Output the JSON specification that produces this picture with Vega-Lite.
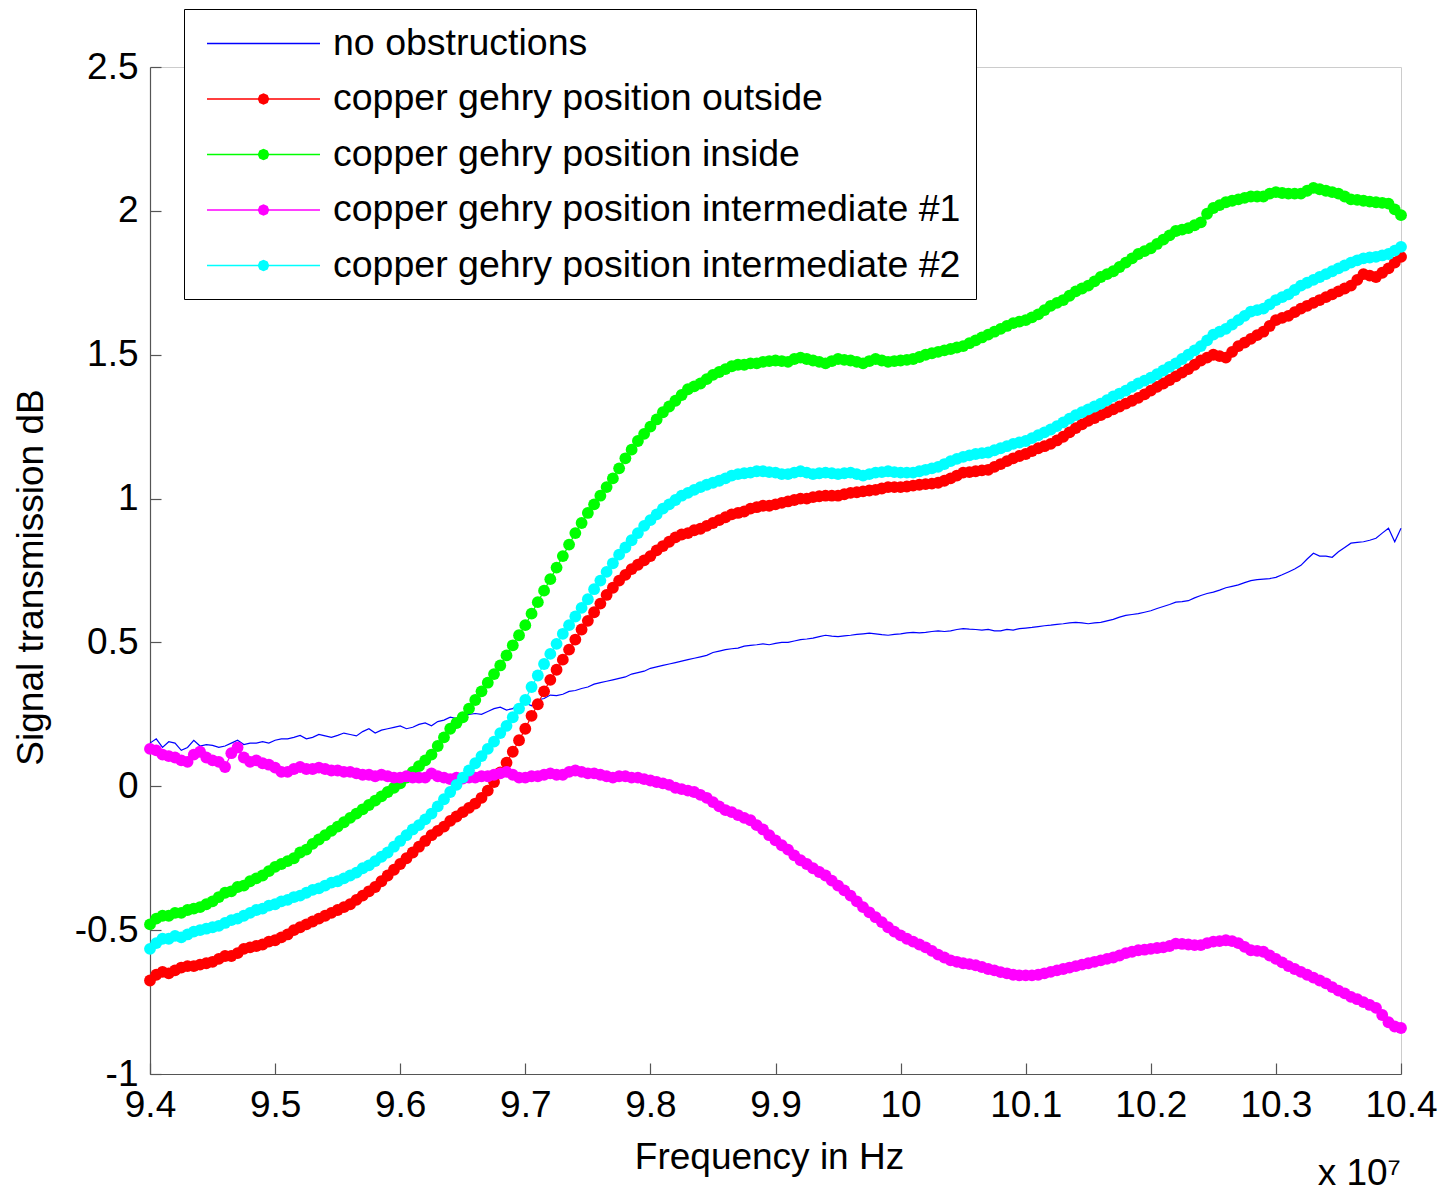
{
  "$schema": "https://vega.github.io/schema/vega-lite/v6.json",
  "width": 1251,
  "height": 1007,
  "autosize": {"type": "none"},
  "padding": {"left": 150, "top": 67, "right": 45, "bottom": 117},
  "background": "white",
  "title": {"text": "x 10⁷", "orient": "bottom", "anchor": "end", "frame": "group", "fontSize": 37, "font": "Liberation Sans", "fontWeight": "normal", "color": "black", "baseline": "alphabetic", "offset": 10},
  "data": {"values": [
{"f":9.400,"s1":0.150,"s2":-0.675,"s3":-0.480,"s4":0.130,"s5":-0.565},
{"f":9.405,"s1":0.165,"s2":-0.655,"s3":-0.460,"s4":0.125,"s5":-0.545},
{"f":9.410,"s1":0.135,"s2":-0.645,"s3":-0.450,"s4":0.110,"s5":-0.530},
{"f":9.415,"s1":0.155,"s2":-0.650,"s3":-0.450,"s4":0.105,"s5":-0.530},
{"f":9.420,"s1":0.150,"s2":-0.640,"s3":-0.440,"s4":0.100,"s5":-0.520},
{"f":9.425,"s1":0.125,"s2":-0.630,"s3":-0.440,"s4":0.090,"s5":-0.525},
{"f":9.430,"s1":0.135,"s2":-0.625,"s3":-0.430,"s4":0.085,"s5":-0.515},
{"f":9.435,"s1":0.160,"s2":-0.625,"s3":-0.425,"s4":0.110,"s5":-0.505},
{"f":9.440,"s1":0.140,"s2":-0.620,"s3":-0.420,"s4":0.120,"s5":-0.500},
{"f":9.445,"s1":0.145,"s2":-0.615,"s3":-0.410,"s4":0.100,"s5":-0.495},
{"f":9.450,"s1":0.142,"s2":-0.610,"s3":-0.400,"s4":0.090,"s5":-0.490},
{"f":9.455,"s1":0.135,"s2":-0.600,"s3":-0.385,"s4":0.085,"s5":-0.485},
{"f":9.460,"s1":0.140,"s2":-0.590,"s3":-0.370,"s4":0.067,"s5":-0.475},
{"f":9.465,"s1":0.150,"s2":-0.590,"s3":-0.365,"s4":0.115,"s5":-0.465},
{"f":9.470,"s1":0.160,"s2":-0.580,"s3":-0.350,"s4":0.135,"s5":-0.460},
{"f":9.475,"s1":0.145,"s2":-0.565,"s3":-0.345,"s4":0.100,"s5":-0.450},
{"f":9.480,"s1":0.150,"s2":-0.560,"s3":-0.330,"s4":0.085,"s5":-0.440},
{"f":9.485,"s1":0.150,"s2":-0.555,"s3":-0.320,"s4":0.090,"s5":-0.430},
{"f":9.490,"s1":0.155,"s2":-0.550,"s3":-0.310,"s4":0.080,"s5":-0.425},
{"f":9.495,"s1":0.150,"s2":-0.540,"s3":-0.295,"s4":0.075,"s5":-0.415},
{"f":9.500,"s1":0.160,"s2":-0.535,"s3":-0.280,"s4":0.065,"s5":-0.410},
{"f":9.505,"s1":0.165,"s2":-0.525,"s3":-0.270,"s4":0.050,"s5":-0.400},
{"f":9.510,"s1":0.165,"s2":-0.515,"s3":-0.260,"s4":0.050,"s5":-0.395},
{"f":9.515,"s1":0.170,"s2":-0.500,"s3":-0.250,"s4":0.060,"s5":-0.385},
{"f":9.520,"s1":0.177,"s2":-0.490,"s3":-0.230,"s4":0.067,"s5":-0.380},
{"f":9.525,"s1":0.165,"s2":-0.480,"s3":-0.220,"s4":0.060,"s5":-0.370},
{"f":9.530,"s1":0.170,"s2":-0.470,"s3":-0.200,"s4":0.060,"s5":-0.360},
{"f":9.535,"s1":0.180,"s2":-0.460,"s3":-0.185,"s4":0.065,"s5":-0.355},
{"f":9.540,"s1":0.175,"s2":-0.450,"s3":-0.170,"s4":0.060,"s5":-0.345},
{"f":9.545,"s1":0.170,"s2":-0.440,"s3":-0.155,"s4":0.055,"s5":-0.335},
{"f":9.550,"s1":0.177,"s2":-0.430,"s3":-0.140,"s4":0.055,"s5":-0.330},
{"f":9.555,"s1":0.185,"s2":-0.420,"s3":-0.125,"s4":0.050,"s5":-0.320},
{"f":9.560,"s1":0.180,"s2":-0.410,"s3":-0.110,"s4":0.050,"s5":-0.310},
{"f":9.565,"s1":0.175,"s2":-0.395,"s3":-0.095,"s4":0.045,"s5":-0.300},
{"f":9.570,"s1":0.190,"s2":-0.380,"s3":-0.080,"s4":0.040,"s5":-0.285},
{"f":9.575,"s1":0.200,"s2":-0.365,"s3":-0.065,"s4":0.040,"s5":-0.275},
{"f":9.580,"s1":0.185,"s2":-0.350,"s3":-0.050,"s4":0.035,"s5":-0.260},
{"f":9.585,"s1":0.195,"s2":-0.330,"s3":-0.035,"s4":0.040,"s5":-0.245},
{"f":9.590,"s1":0.200,"s2":-0.310,"s3":-0.020,"s4":0.035,"s5":-0.230},
{"f":9.595,"s1":0.205,"s2":-0.290,"s3":-0.005,"s4":0.030,"s5":-0.210},
{"f":9.600,"s1":0.210,"s2":-0.270,"s3":0.010,"s4":0.030,"s5":-0.190},
{"f":9.605,"s1":0.200,"s2":-0.250,"s3":0.030,"s4":0.035,"s5":-0.170},
{"f":9.610,"s1":0.205,"s2":-0.230,"s3":0.050,"s4":0.030,"s5":-0.150},
{"f":9.615,"s1":0.215,"s2":-0.210,"s3":0.070,"s4":0.030,"s5":-0.135},
{"f":9.620,"s1":0.220,"s2":-0.190,"s3":0.090,"s4":0.030,"s5":-0.115},
{"f":9.625,"s1":0.210,"s2":-0.170,"s3":0.110,"s4":0.045,"s5":-0.095},
{"f":9.630,"s1":0.225,"s2":-0.155,"s3":0.140,"s4":0.035,"s5":-0.070},
{"f":9.635,"s1":0.230,"s2":-0.140,"s3":0.170,"s4":0.030,"s5":-0.045},
{"f":9.640,"s1":0.240,"s2":-0.120,"s3":0.200,"s4":0.025,"s5":-0.020},
{"f":9.645,"s1":0.235,"s2":-0.105,"s3":0.220,"s4":0.030,"s5":0.005},
{"f":9.650,"s1":0.245,"s2":-0.090,"s3":0.240,"s4":0.027,"s5":0.030},
{"f":9.655,"s1":0.250,"s2":-0.075,"s3":0.270,"s4":0.030,"s5":0.055},
{"f":9.660,"s1":0.253,"s2":-0.060,"s3":0.300,"s4":0.030,"s5":0.080},
{"f":9.665,"s1":0.250,"s2":-0.040,"s3":0.330,"s4":0.035,"s5":0.105},
{"f":9.670,"s1":0.260,"s2":-0.015,"s3":0.360,"s4":0.035,"s5":0.130},
{"f":9.675,"s1":0.270,"s2":0.015,"s3":0.390,"s4":0.040,"s5":0.155},
{"f":9.680,"s1":0.275,"s2":0.048,"s3":0.420,"s4":0.045,"s5":0.185},
{"f":9.685,"s1":0.265,"s2":0.082,"s3":0.455,"s4":0.050,"s5":0.210},
{"f":9.690,"s1":0.270,"s2":0.120,"s3":0.490,"s4":0.040,"s5":0.240},
{"f":9.695,"s1":0.285,"s2":0.160,"s3":0.525,"s4":0.030,"s5":0.270},
{"f":9.700,"s1":0.290,"s2":0.200,"s3":0.560,"s4":0.030,"s5":0.300},
{"f":9.705,"s1":0.280,"s2":0.245,"s3":0.600,"s4":0.035,"s5":0.345},
{"f":9.710,"s1":0.300,"s2":0.285,"s3":0.640,"s4":0.035,"s5":0.385},
{"f":9.715,"s1":0.305,"s2":0.330,"s3":0.680,"s4":0.040,"s5":0.425},
{"f":9.720,"s1":0.317,"s2":0.370,"s3":0.720,"s4":0.045,"s5":0.460},
{"f":9.725,"s1":0.315,"s2":0.405,"s3":0.760,"s4":0.040,"s5":0.495},
{"f":9.730,"s1":0.320,"s2":0.440,"s3":0.800,"s4":0.040,"s5":0.530},
{"f":9.735,"s1":0.330,"s2":0.475,"s3":0.840,"s4":0.050,"s5":0.560},
{"f":9.740,"s1":0.333,"s2":0.510,"s3":0.880,"s4":0.055,"s5":0.590},
{"f":9.745,"s1":0.340,"s2":0.545,"s3":0.915,"s4":0.050,"s5":0.620},
{"f":9.750,"s1":0.345,"s2":0.575,"s3":0.950,"s4":0.045,"s5":0.650},
{"f":9.755,"s1":0.355,"s2":0.605,"s3":0.980,"s4":0.045,"s5":0.685},
{"f":9.760,"s1":0.360,"s2":0.635,"s3":1.010,"s4":0.040,"s5":0.715},
{"f":9.765,"s1":0.365,"s2":0.665,"s3":1.040,"s4":0.035,"s5":0.745},
{"f":9.770,"s1":0.370,"s2":0.690,"s3":1.070,"s4":0.030,"s5":0.775},
{"f":9.775,"s1":0.375,"s2":0.715,"s3":1.105,"s4":0.035,"s5":0.805},
{"f":9.780,"s1":0.380,"s2":0.735,"s3":1.140,"s4":0.035,"s5":0.830},
{"f":9.785,"s1":0.390,"s2":0.755,"s3":1.170,"s4":0.030,"s5":0.855},
{"f":9.790,"s1":0.395,"s2":0.770,"s3":1.200,"s4":0.030,"s5":0.880},
{"f":9.795,"s1":0.400,"s2":0.785,"s3":1.225,"s4":0.025,"s5":0.905},
{"f":9.800,"s1":0.410,"s2":0.800,"s3":1.250,"s4":0.020,"s5":0.925},
{"f":9.805,"s1":0.415,"s2":0.820,"s3":1.275,"s4":0.015,"s5":0.945},
{"f":9.810,"s1":0.420,"s2":0.835,"s3":1.300,"s4":0.010,"s5":0.965},
{"f":9.815,"s1":0.425,"s2":0.850,"s3":1.320,"s4":0.005,"s5":0.980},
{"f":9.820,"s1":0.430,"s2":0.865,"s3":1.340,"s4":-0.005,"s5":0.995},
{"f":9.825,"s1":0.435,"s2":0.875,"s3":1.360,"s4":-0.010,"s5":1.010},
{"f":9.830,"s1":0.440,"s2":0.880,"s3":1.380,"s4":-0.015,"s5":1.020},
{"f":9.835,"s1":0.445,"s2":0.890,"s3":1.390,"s4":-0.020,"s5":1.030},
{"f":9.840,"s1":0.450,"s2":0.895,"s3":1.400,"s4":-0.030,"s5":1.040},
{"f":9.845,"s1":0.455,"s2":0.905,"s3":1.415,"s4":-0.040,"s5":1.048},
{"f":9.850,"s1":0.465,"s2":0.915,"s3":1.430,"s4":-0.055,"s5":1.055},
{"f":9.855,"s1":0.470,"s2":0.925,"s3":1.440,"s4":-0.070,"s5":1.062},
{"f":9.860,"s1":0.475,"s2":0.935,"s3":1.450,"s4":-0.083,"s5":1.070},
{"f":9.865,"s1":0.478,"s2":0.945,"s3":1.460,"s4":-0.090,"s5":1.080},
{"f":9.870,"s1":0.480,"s2":0.950,"s3":1.465,"s4":-0.100,"s5":1.085},
{"f":9.875,"s1":0.487,"s2":0.955,"s3":1.465,"s4":-0.110,"s5":1.088},
{"f":9.880,"s1":0.490,"s2":0.965,"s3":1.470,"s4":-0.118,"s5":1.090},
{"f":9.885,"s1":0.492,"s2":0.970,"s3":1.470,"s4":-0.135,"s5":1.095},
{"f":9.890,"s1":0.495,"s2":0.975,"s3":1.475,"s4":-0.150,"s5":1.095},
{"f":9.895,"s1":0.492,"s2":0.975,"s3":1.478,"s4":-0.170,"s5":1.092},
{"f":9.900,"s1":0.497,"s2":0.980,"s3":1.480,"s4":-0.188,"s5":1.090},
{"f":9.905,"s1":0.500,"s2":0.985,"s3":1.478,"s4":-0.205,"s5":1.085},
{"f":9.910,"s1":0.500,"s2":0.990,"s3":1.475,"s4":-0.220,"s5":1.085},
{"f":9.915,"s1":0.505,"s2":0.995,"s3":1.485,"s4":-0.240,"s5":1.090},
{"f":9.920,"s1":0.510,"s2":1.000,"s3":1.490,"s4":-0.257,"s5":1.095},
{"f":9.925,"s1":0.512,"s2":1.000,"s3":1.485,"s4":-0.270,"s5":1.090},
{"f":9.930,"s1":0.515,"s2":1.005,"s3":1.480,"s4":-0.285,"s5":1.085},
{"f":9.935,"s1":0.520,"s2":1.008,"s3":1.475,"s4":-0.298,"s5":1.088},
{"f":9.940,"s1":0.525,"s2":1.010,"s3":1.470,"s4":-0.310,"s5":1.090},
{"f":9.945,"s1":0.522,"s2":1.010,"s3":1.478,"s4":-0.328,"s5":1.088},
{"f":9.950,"s1":0.520,"s2":1.010,"s3":1.485,"s4":-0.345,"s5":1.085},
{"f":9.955,"s1":0.523,"s2":1.015,"s3":1.482,"s4":-0.362,"s5":1.088},
{"f":9.960,"s1":0.525,"s2":1.020,"s3":1.480,"s4":-0.380,"s5":1.090},
{"f":9.965,"s1":0.528,"s2":1.022,"s3":1.475,"s4":-0.400,"s5":1.085},
{"f":9.970,"s1":0.530,"s2":1.025,"s3":1.470,"s4":-0.420,"s5":1.080},
{"f":9.975,"s1":0.532,"s2":1.028,"s3":1.478,"s4":-0.438,"s5":1.085},
{"f":9.980,"s1":0.530,"s2":1.030,"s3":1.485,"s4":-0.455,"s5":1.090},
{"f":9.985,"s1":0.527,"s2":1.035,"s3":1.480,"s4":-0.472,"s5":1.092},
{"f":9.990,"s1":0.525,"s2":1.040,"s3":1.475,"s4":-0.490,"s5":1.095},
{"f":9.995,"s1":0.528,"s2":1.040,"s3":1.478,"s4":-0.505,"s5":1.092},
{"f":10.000,"s1":0.530,"s2":1.040,"s3":1.480,"s4":-0.518,"s5":1.090},
{"f":10.005,"s1":0.533,"s2":1.042,"s3":1.482,"s4":-0.530,"s5":1.090},
{"f":10.010,"s1":0.535,"s2":1.045,"s3":1.485,"s4":-0.540,"s5":1.090},
{"f":10.015,"s1":0.533,"s2":1.048,"s3":1.492,"s4":-0.550,"s5":1.095},
{"f":10.020,"s1":0.535,"s2":1.050,"s3":1.500,"s4":-0.560,"s5":1.100},
{"f":10.025,"s1":0.538,"s2":1.052,"s3":1.505,"s4":-0.572,"s5":1.105},
{"f":10.030,"s1":0.540,"s2":1.055,"s3":1.510,"s4":-0.585,"s5":1.110},
{"f":10.035,"s1":0.538,"s2":1.062,"s3":1.515,"s4":-0.595,"s5":1.120},
{"f":10.040,"s1":0.540,"s2":1.070,"s3":1.520,"s4":-0.605,"s5":1.130},
{"f":10.045,"s1":0.545,"s2":1.080,"s3":1.525,"s4":-0.610,"s5":1.138},
{"f":10.050,"s1":0.548,"s2":1.090,"s3":1.530,"s4":-0.615,"s5":1.145},
{"f":10.055,"s1":0.546,"s2":1.092,"s3":1.540,"s4":-0.618,"s5":1.150},
{"f":10.060,"s1":0.545,"s2":1.095,"s3":1.550,"s4":-0.622,"s5":1.155},
{"f":10.065,"s1":0.543,"s2":1.098,"s3":1.560,"s4":-0.628,"s5":1.158},
{"f":10.070,"s1":0.545,"s2":1.100,"s3":1.570,"s4":-0.635,"s5":1.160},
{"f":10.075,"s1":0.540,"s2":1.110,"s3":1.580,"s4":-0.640,"s5":1.168},
{"f":10.080,"s1":0.540,"s2":1.120,"s3":1.590,"s4":-0.646,"s5":1.175},
{"f":10.085,"s1":0.545,"s2":1.130,"s3":1.600,"s4":-0.650,"s5":1.182},
{"f":10.090,"s1":0.543,"s2":1.140,"s3":1.610,"s4":-0.655,"s5":1.190},
{"f":10.095,"s1":0.548,"s2":1.148,"s3":1.615,"s4":-0.657,"s5":1.195},
{"f":10.100,"s1":0.550,"s2":1.155,"s3":1.620,"s4":-0.657,"s5":1.200},
{"f":10.105,"s1":0.552,"s2":1.165,"s3":1.630,"s4":-0.657,"s5":1.210},
{"f":10.110,"s1":0.555,"s2":1.175,"s3":1.640,"s4":-0.655,"s5":1.220},
{"f":10.115,"s1":0.558,"s2":1.182,"s3":1.655,"s4":-0.650,"s5":1.230},
{"f":10.120,"s1":0.560,"s2":1.190,"s3":1.670,"s4":-0.645,"s5":1.240},
{"f":10.125,"s1":0.563,"s2":1.202,"s3":1.680,"s4":-0.640,"s5":1.252},
{"f":10.130,"s1":0.565,"s2":1.215,"s3":1.690,"s4":-0.635,"s5":1.265},
{"f":10.135,"s1":0.568,"s2":1.230,"s3":1.705,"s4":-0.630,"s5":1.278},
{"f":10.140,"s1":0.570,"s2":1.245,"s3":1.720,"s4":-0.625,"s5":1.290},
{"f":10.145,"s1":0.568,"s2":1.258,"s3":1.730,"s4":-0.620,"s5":1.300},
{"f":10.150,"s1":0.565,"s2":1.270,"s3":1.740,"s4":-0.615,"s5":1.310},
{"f":10.155,"s1":0.568,"s2":1.280,"s3":1.755,"s4":-0.610,"s5":1.320},
{"f":10.160,"s1":0.570,"s2":1.290,"s3":1.770,"s4":-0.605,"s5":1.330},
{"f":10.165,"s1":0.575,"s2":1.300,"s3":1.780,"s4":-0.600,"s5":1.342},
{"f":10.170,"s1":0.580,"s2":1.310,"s3":1.790,"s4":-0.595,"s5":1.355},
{"f":10.175,"s1":0.588,"s2":1.320,"s3":1.805,"s4":-0.588,"s5":1.365},
{"f":10.180,"s1":0.594,"s2":1.330,"s3":1.820,"s4":-0.580,"s5":1.375},
{"f":10.185,"s1":0.597,"s2":1.340,"s3":1.835,"s4":-0.575,"s5":1.388},
{"f":10.190,"s1":0.600,"s2":1.350,"s3":1.850,"s4":-0.570,"s5":1.400},
{"f":10.195,"s1":0.605,"s2":1.362,"s3":1.860,"s4":-0.568,"s5":1.410},
{"f":10.200,"s1":0.610,"s2":1.375,"s3":1.870,"s4":-0.565,"s5":1.420},
{"f":10.205,"s1":0.618,"s2":1.388,"s3":1.885,"s4":-0.562,"s5":1.432},
{"f":10.210,"s1":0.625,"s2":1.400,"s3":1.900,"s4":-0.560,"s5":1.445},
{"f":10.215,"s1":0.632,"s2":1.412,"s3":1.915,"s4":-0.555,"s5":1.458},
{"f":10.220,"s1":0.640,"s2":1.425,"s3":1.930,"s4":-0.547,"s5":1.470},
{"f":10.225,"s1":0.642,"s2":1.438,"s3":1.935,"s4":-0.548,"s5":1.485},
{"f":10.230,"s1":0.645,"s2":1.450,"s3":1.940,"s4":-0.550,"s5":1.500},
{"f":10.235,"s1":0.655,"s2":1.465,"s3":1.950,"s4":-0.552,"s5":1.515},
{"f":10.240,"s1":0.663,"s2":1.480,"s3":1.960,"s4":-0.552,"s5":1.530},
{"f":10.245,"s1":0.670,"s2":1.490,"s3":1.990,"s4":-0.545,"s5":1.550},
{"f":10.250,"s1":0.675,"s2":1.500,"s3":2.010,"s4":-0.540,"s5":1.570},
{"f":10.255,"s1":0.682,"s2":1.495,"s3":2.020,"s4":-0.538,"s5":1.580},
{"f":10.260,"s1":0.690,"s2":1.490,"s3":2.030,"s4":-0.535,"s5":1.590},
{"f":10.265,"s1":0.695,"s2":1.510,"s3":2.035,"s4":-0.538,"s5":1.605},
{"f":10.270,"s1":0.700,"s2":1.530,"s3":2.040,"s4":-0.545,"s5":1.620},
{"f":10.275,"s1":0.708,"s2":1.542,"s3":2.045,"s4":-0.558,"s5":1.635},
{"f":10.280,"s1":0.715,"s2":1.555,"s3":2.050,"s4":-0.570,"s5":1.650},
{"f":10.285,"s1":0.718,"s2":1.568,"s3":2.050,"s4":-0.572,"s5":1.655},
{"f":10.290,"s1":0.720,"s2":1.580,"s3":2.050,"s4":-0.575,"s5":1.660},
{"f":10.295,"s1":0.722,"s2":1.600,"s3":2.060,"s4":-0.588,"s5":1.675},
{"f":10.300,"s1":0.726,"s2":1.620,"s3":2.065,"s4":-0.600,"s5":1.690},
{"f":10.305,"s1":0.735,"s2":1.628,"s3":2.062,"s4":-0.612,"s5":1.700},
{"f":10.310,"s1":0.745,"s2":1.635,"s3":2.060,"s4":-0.625,"s5":1.710},
{"f":10.315,"s1":0.755,"s2":1.648,"s3":2.060,"s4":-0.635,"s5":1.725},
{"f":10.320,"s1":0.768,"s2":1.660,"s3":2.060,"s4":-0.645,"s5":1.740},
{"f":10.325,"s1":0.790,"s2":1.670,"s3":2.070,"s4":-0.655,"s5":1.750},
{"f":10.330,"s1":0.810,"s2":1.680,"s3":2.080,"s4":-0.665,"s5":1.760},
{"f":10.335,"s1":0.800,"s2":1.690,"s3":2.075,"s4":-0.675,"s5":1.770},
{"f":10.340,"s1":0.800,"s2":1.700,"s3":2.070,"s4":-0.685,"s5":1.780},
{"f":10.345,"s1":0.796,"s2":1.710,"s3":2.065,"s4":-0.698,"s5":1.790},
{"f":10.350,"s1":0.815,"s2":1.720,"s3":2.060,"s4":-0.710,"s5":1.800},
{"f":10.355,"s1":0.830,"s2":1.730,"s3":2.050,"s4":-0.720,"s5":1.810},
{"f":10.360,"s1":0.845,"s2":1.740,"s3":2.040,"s4":-0.732,"s5":1.820},
{"f":10.365,"s1":0.848,"s2":1.760,"s3":2.038,"s4":-0.740,"s5":1.828},
{"f":10.370,"s1":0.850,"s2":1.780,"s3":2.035,"s4":-0.750,"s5":1.835},
{"f":10.375,"s1":0.855,"s2":1.775,"s3":2.032,"s4":-0.760,"s5":1.838},
{"f":10.380,"s1":0.862,"s2":1.770,"s3":2.030,"s4":-0.770,"s5":1.840},
{"f":10.385,"s1":0.880,"s2":1.785,"s3":2.028,"s4":-0.795,"s5":1.845},
{"f":10.390,"s1":0.897,"s2":1.800,"s3":2.025,"s4":-0.820,"s5":1.850},
{"f":10.395,"s1":0.850,"s2":1.820,"s3":2.005,"s4":-0.835,"s5":1.862},
{"f":10.400,"s1":0.897,"s2":1.840,"s3":1.985,"s4":-0.840,"s5":1.875}
  ]},
  "transform": [{"fold": ["s1", "s2", "s3", "s4", "s5"], "as": ["s", "v"]}],
  "encoding": {
    "x": {
      "field": "f", "type": "quantitative",
      "scale": {"domain": [9.4, 10.4], "nice": false, "zero": false},
      "axis": {
        "values": [9.4, 9.5, 9.6, 9.7, 9.8, 9.9, 10, 10.1, 10.2, 10.3, 10.4],
        "labelExpr": "'' + datum.value",
        "title": "Frequency in Hz",
        "grid": false,
        "tickSize": -11, "tickColor": "#555555", "tickWidth": 1.2,
        "domainColor": "#555555", "domainWidth": 1.2,
        "labelFont": "Liberation Sans", "labelFontSize": 37, "labelColor": "black",
        "labelPadding": 24, "labelFlush": false, "labelOverlap": false,
        "titleFont": "Liberation Sans", "titleFontSize": 37, "titleFontWeight": "normal", "titleColor": "black",
        "titleX": 619, "titleY": 94, "titleBaseline": "alphabetic", "titleAlign": "center"
      }
    },
    "y": {
      "field": "v", "type": "quantitative",
      "scale": {"domain": [-1, 2.5], "nice": false, "zero": false},
      "axis": {
        "values": [-1, -0.5, 0, 0.5, 1, 1.5, 2, 2.5],
        "labelExpr": "'' + datum.value",
        "title": "Signal transmission dB",
        "grid": false,
        "tickSize": -11, "tickColor": "#555555", "tickWidth": 1.2,
        "domainColor": "#555555", "domainWidth": 1.2,
        "labelFont": "Liberation Sans", "labelFontSize": 37, "labelColor": "black",
        "labelPadding": 23, "labelFlush": false, "labelOverlap": false,
        "titleFont": "Liberation Sans", "titleFontSize": 37, "titleFontWeight": "normal", "titleColor": "black",
        "titleAngle": -90, "titleX": -108, "titleY": 510, "titleBaseline": "alphabetic", "titleAlign": "center"
      }
    },
    "color": {
      "field": "s", "type": "nominal",
      "scale": {"domain": ["s1", "s2", "s3", "s4", "s5"], "range": ["#0000ff", "#ff0000", "#00ff00", "#ff00ff", "#00ffff"]},
      "legend": {
        "orient": "none", "legendX": 34, "legendY": -58,
        "title": null,
        "labelExpr": "datum.label == 's1' ? 'no obstructions' : datum.label == 's2' ? 'copper gehry position outside' : datum.label == 's3' ? 'copper gehry position inside' : datum.label == 's4' ? 'copper gehry position intermediate #1' : 'copper gehry position intermediate #2'",
        "labelFont": "Liberation Sans", "labelFontSize": 37.5, "labelColor": "black",
        "labelLimit": 0,
        "symbolSize": 1369, "symbolStrokeWidth": 1.5,
        "symbolOffset": 45, "labelOffset": 50,
        "padding": 15, "rowPadding": 17.5,
        "strokeColor": "black", "fillColor": "white",
        "encode": {
          "symbols": {
            "update": {
              "shape": {"signal": "datum.value == 's1' ? 'M-3.054,0L3.054,0' : 'M-3.054,0L3.054,0M0.27,0L0.191,0.191L0,0.27L-0.191,0.191L-0.27,0L-0.191,-0.191L0,-0.27L0.191,-0.191Z'"},
              "stroke": {"scale": "color", "field": "value"},
              "fill": {"scale": "color", "field": "value"},
              "strokeWidth": {"value": 1.5},
              "opacity": {"value": 1}
            }
          }
        }
      }
    }
  },
  "layer": [
    {
      "mark": {"type": "line", "strokeWidth": 1.2},
      "encoding": {"detail": {"field": "s"}}
    },
    {
      "transform": [{"filter": "datum.s != 's1'"}],
      "mark": {"type": "point", "filled": true, "shape": "circle", "size": 140, "opacity": 1},
      "encoding": {"order": {"field": "s", "type": "ordinal"}}
    }
  ],
  "config": {
    "view": {"stroke": "#cccccc", "strokeWidth": 1},
    "font": "Liberation Sans"
  }
}
